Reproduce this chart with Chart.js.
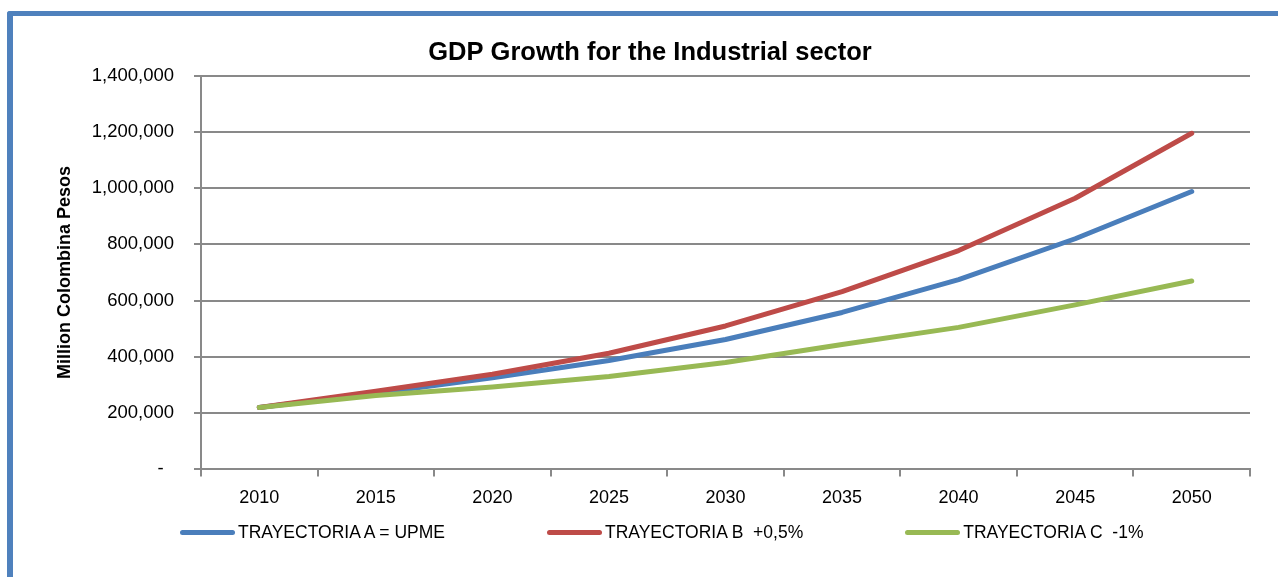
<!DOCTYPE html>
<html>
<head>
<meta charset="utf-8">
<script src="https://cdn.jsdelivr.net/npm/chart.js@4"></script>
<style>
  html, body { margin: 0; padding: 0; background: #fff; }
  body { width: 1278px; height: 577px; position: relative; overflow: hidden; font-family: "Liberation Sans", Arial, sans-serif; }
  #frame { position: absolute; left: 7px; top: 11px; width: 1400px; height: 700px; border-left: 6px solid #4f81bd; border-top: 5px solid #4f81bd; border-top-left-radius: 3px; }
  #wrap { position: absolute; left: 0; top: 0; width: 1278px; height: 577px; }
  #legend { position: absolute; left: 180px; top: 522px; display: flex; gap: 102px; font-size: 17.5px; color: #000; }
  .item { display: flex; align-items: center; white-space: pre; }
  .swatch { width: 55px; height: 5px; border-radius: 3px; margin-right: 3px; }
</style>
</head>
<body>
<div id="frame"></div>
<div id="wrap"><canvas id="gdpChart" width="1278" height="577"></canvas></div>
<div id="legend"></div>
<script>
const years = ['2010', '2015', '2020', '2025', '2030', '2035', '2040', '2045', '2050'];

// valores (millones de pesos)
const trayectoriaA = [220000, 271000, 326000, 387000, 462000, 558000, 675000, 820000, 988000];
const trayectoriaB = [220000, 278000, 338000, 413000, 510000, 632000, 778000, 964000, 1195000];
const trayectoriaC = [220000, 263000, 293000, 330000, 380000, 444000, 505000, 585000, 670000];

const labelA = 'TRAYECTORIA A = UPME';
const labelB = 'TRAYECTORIA B  +0,5%';
const labelC = 'TRAYECTORIA C  -1%';

const yTicks = [0, 200000, 400000, 600000, 800000, 1000000, 1200000, 1400000];

const colorA = '#4a7ebb';
const colorB = '#be4b48';
const colorC = '#98b954';
const gridColor = '#898989';
const fontFamily = '"Liberation Sans", Arial, sans-serif';

function serie(label, data, color, order) {
  return {
    label: label,
    data: data,
    borderColor: color,
    backgroundColor: color,
    borderWidth: 5,
    borderCapStyle: 'round',
    borderJoinStyle: 'round',
    pointRadius: 0,
    tension: 0,
    fill: false,
    order: order
  };
}

const chart = new Chart(document.getElementById('gdpChart'), {
  type: 'line',
  data: {
    labels: years,
    datasets: [
      serie(labelA, trayectoriaA, colorA, 3),
      serie(labelB, trayectoriaB, colorB, 2),
      serie(labelC, trayectoriaC, colorC, 1)
    ]
  },
  options: {
    responsive: false,
    animation: false,
    devicePixelRatio: 1,
    layout: { padding: { top: 31, left: 50, right: 28, bottom: 57 } },
    plugins: {
      legend: { display: false },
      tooltip: { enabled: false },
      title: {
        display: true,
        text: 'GDP Growth for the Industrial sector',
        color: '#000',
        font: { family: fontFamily, size: 25.5, weight: 'bold' },
        padding: { top: 7, bottom: 7 }
      }
    },
    scales: {
      x: {
        offset: true,
        grid: { offset: true, drawOnChartArea: false, drawTicks: true, tickLength: 7, color: gridColor, lineWidth: 2 },
        border: { color: gridColor, width: 2 },
        ticks: { color: '#000', padding: 11, maxRotation: 0, font: { family: fontFamily, size: 18 } }
      },
      y: {
        min: 0,
        max: 1400000,
        afterFit: (scale) => { scale.width = 151; },
        afterBuildTicks: (scale) => { scale.ticks = yTicks.map(v => ({ value: v })); },
        grid: { color: gridColor, lineWidth: 2, tickLength: 7 },
        border: { color: gridColor, width: 2 },
        ticks: {
          color: '#000',
          padding: 20,
          font: { family: fontFamily, size: 18.5 },
          callback: (v) => v === 0 ? '-  ' : v.toLocaleString('en-US')
        },
        title: {
          display: true,
          text: 'Million Colombina Pesos',
          color: '#000',
          font: { family: fontFamily, size: 18, weight: 'bold' },
          padding: { top: 4, bottom: 0 }
        }
      }
    }
  },
  plugins: []
});

// leyenda en HTML, construida desde los datasets
const legendEl = document.getElementById('legend');
chart.data.datasets.forEach(ds => {
  const item = document.createElement('div');
  item.className = 'item';
  const sw = document.createElement('span');
  sw.className = 'swatch';
  sw.style.background = ds.borderColor;
  const txt = document.createElement('span');
  txt.textContent = ds.label;
  item.appendChild(sw);
  item.appendChild(txt);
  legendEl.appendChild(item);
});
</script>
</body>
</html>
